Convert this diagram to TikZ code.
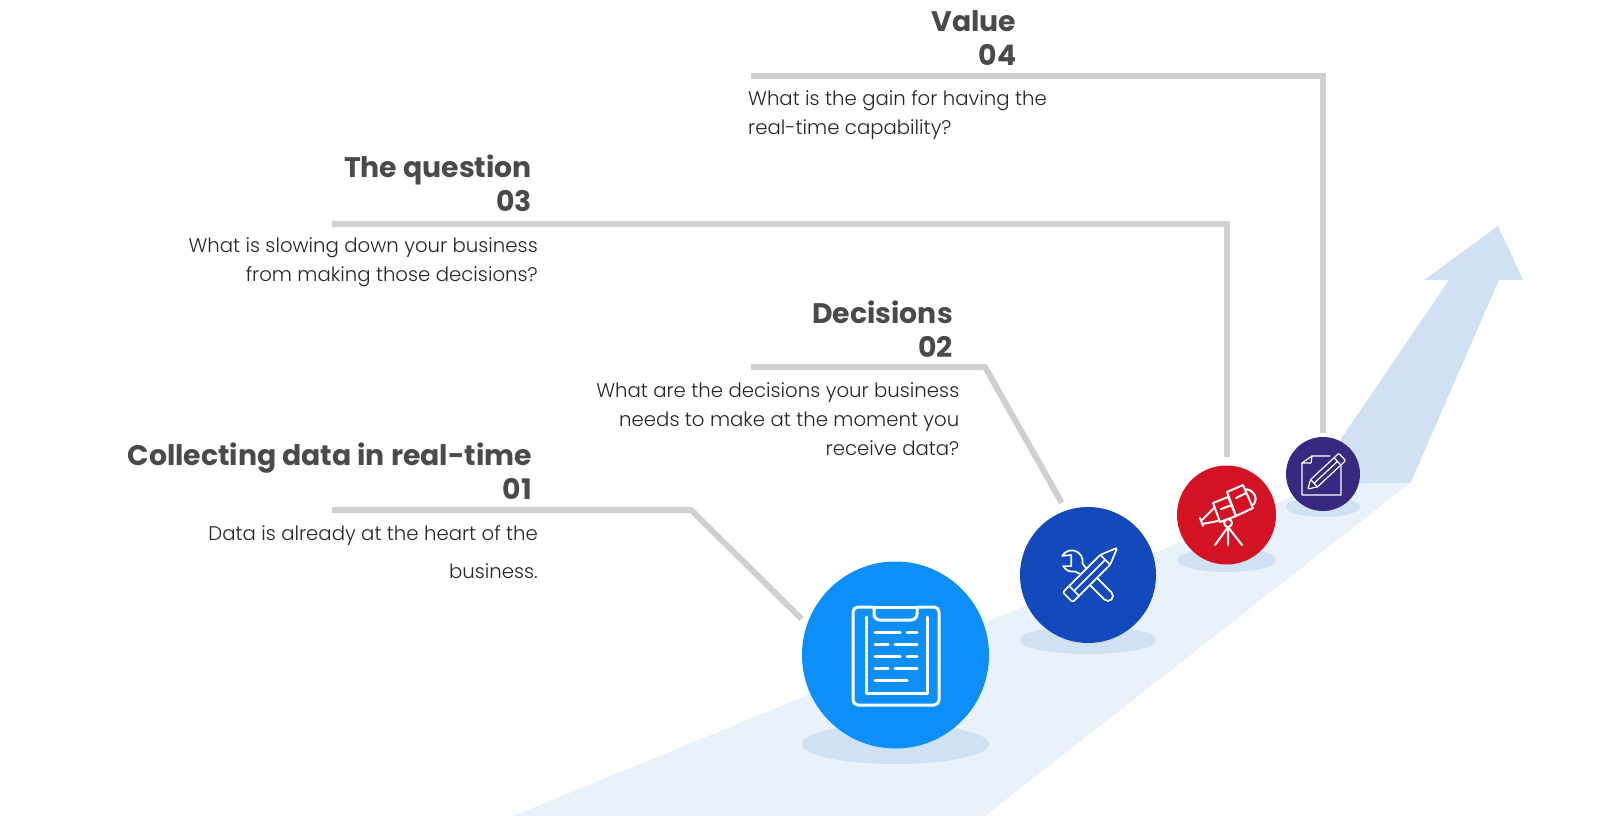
\documentclass[tikz,border=0pt]{standalone}
\usepackage{fontspec}
\usepackage{xcolor}
\usetikzlibrary{positioning}
\newfontfamily\headfont{Poppins}
\newfontfamily\copyfont{Poppins Light}
\definecolor{bandblue}{HTML}{E9F1FA}
\definecolor{paleblue}{HTML}{CFE1F2}
\definecolor{leadgray}{HTML}{D0D0D0}
\definecolor{textgray}{HTML}{4A4A4C}
\definecolor{ballA}{HTML}{0C8FF9}
\definecolor{ballB}{HTML}{1349BB}
\definecolor{ballC}{HTML}{D31324}
\definecolor{ballD}{HTML}{37297F}

\begin{document}
\begin{tikzpicture}
  [x=1pt,y=-1pt,
   ball/.style={circle,inner sep=0pt},
   lead/.style={draw=leadgray,line width=6pt,miter limit=10},
   heading/.style={inner sep=0pt,text=textgray,align=right,anchor=north east,
     font=\headfont\bfseries\fontsize{28.3}{34}\selectfont,execute at begin node=\strut},
   copytext/.style={inner sep=0pt,text=black!85,align=right,anchor=north east,
     font=\copyfont\fontsize{19.7}{29}\selectfont,execute at begin node=\strut},
   icon/.style={draw=white,line width=#1,line cap=round,line join=round},
   icon/.default=1.7pt]
  \useasboundingbox (0,0) rectangle (1600,816);

  % road and arrow
  \fill[paleblue] (1410,484) -- (1499,280) -- (1523,280) -- (1498,226) -- (1424,280)
    -- (1449,280) -- (1311,483) -- cycle;
  \fill[bandblue] (513,816) -- (1325,483) -- (1410,483) -- (985,816) -- cycle;

  % shadows
  \fill[paleblue] (895.5,744) ellipse [x radius=93.5,y radius=20];
  \fill[paleblue] (1088,640) ellipse [x radius=68,y radius=14];
  \fill[paleblue] (1226.5,560) ellipse [x radius=49.5,y radius=12];
  \fill[paleblue] (1323,507) ellipse [x radius=37,y radius=10];

  \node[ball,fill=ballA,minimum size=187pt,outer sep=7pt] (c1) at (895.5,655) {};
  \node[ball,fill=ballB,minimum size=136pt,outer sep=9pt] (c2) at (1088,575) {};
  \node[ball,fill=ballC,minimum size=99pt,outer sep=9pt] (c3) at (1226.5,515) {};
  \node[ball,fill=ballD,minimum size=74pt,outer sep=4pt] (c4) at (1323,474) {};

  \coordinate (s1) at (332,510);
  \coordinate (k1) at (691,510);
  \coordinate (s2) at (751,367);
  \coordinate (k2) at (985,367);
  \coordinate (s3) at (332,223.5);
  \coordinate (k3) at (1226.5,223.5);
  \coordinate (s4) at (751,75.5);
  \coordinate (k4) at (1323,75.5);

  \foreach \from/\via/\to in {s1/k1/c1.159.7,s2/k2/c2.110.6,s3/k3/c3.north,s4/k4/c4.north}
    \draw[lead] (\from) -- (\via) -- (\to);

  \node[heading] (t1) at (532,443) {Collecting data in real-time\\01};
  \node[heading] (t2) at (953,300.5) {Decisions\\02};
  \node[heading] (t3) at (532,155) {The question\\03};
  \node[heading] (t4) at (1016.5,10.5) {Value\\04};

  \node[copytext] (d1) at (538,525) {Data is already at the heart of the\\[9pt]business.};
  \node[copytext] (d2) at (959.5,382) {What are the decisions your business\\needs to make at the moment you\\receive data?};
  \node[copytext] (d3) at (538,237) {What is slowing down your business\\from making those decisions?};
  \node[copytext,align=left,anchor=north west] (d4) at (748,90) {What is the gain for having the\\real-time capability?};

  % clipboard
  \draw[icon=3pt,rounded corners=5pt] (873,607) -- (853,607) -- (853,705) -- (939,705) -- (939,607) -- (918,607);
  \draw[icon=3pt] (873,607) -- (918,607);
  \draw[icon=3pt,rounded corners=6pt] (874,607) -- (874,620) -- (917,620) -- (917,607);
  \draw[icon=3pt] (866,617) -- (866,693) -- (927,693) -- (927,617);
  \foreach \y/\a/\b/\c/\d in {632/875/900/907/917,644/875/888/895/917,656/875/900/907/917,668/875/888/895/917}
    \draw[icon=3pt] (\a,\y) -- (\b,\y) (\c,\y) -- (\d,\y);
  \draw[icon=3pt] (875,680) -- (907,680);

  % wrench and pencil
  \begin{scope}[shift={(1091,579)},rotate=-45]
    \draw[icon] (4,-5) -- (24,-5) arc [start angle=-90,end angle=90,radius=5] -- (4,5);
    \draw[icon] (-11,-4) -- (-17,-5) arc [start angle=-34,end angle=-195,radius=11]
      -- (-31,-2.9) -- (-23.1,4.9) -- (-28.8,10.6) arc [start angle=105,end angle=34,radius=11] -- (-11,4);
  \end{scope}
  \begin{scope}[shift={(1092.5,572.5)},rotate=45]
    \draw[icon,rounded corners=2pt] (-35,-7) -- (18,-7) -- (35,0) -- (18,7) -- (-35,7) -- cycle;
    \draw[icon] (-26,-7) -- (-26,7) (-26,0) -- (18,0) (18,-7) -- (18,7);
  \end{scope}

  % telescope
  \draw[icon=2pt] (1227,492) -- (1243,485) -- (1253,508) -- (1236,516) -- cycle;
  \draw[icon=2pt] (1213,503) -- (1228,497) -- (1236,516) -- (1220,522) -- cycle;
  \draw[icon=2pt] (1214,508) -- (1202,520) (1218,521) -- (1202,524);
  \draw[icon=2pt] (1200,518) -- (1203,526);
  \draw[icon=2pt] (1245,489) .. controls (1257,490) and (1258,503) .. (1252,505);
  \draw[icon=2pt] (1221,509) -- (1232,505) (1236,498) -- (1246,493);
  \draw[icon=2pt] (1228,523) circle [radius=4];
  \draw[icon=2pt] (1228,527) -- (1215,545) (1228,527) -- (1228,545) (1228,527) -- (1242,545);

  % note and pencil
  \draw[icon=1.2pt] (1330,456) -- (1312,456) -- (1302,463) -- (1302,495) -- (1341,495) -- (1341,466);
  \draw[icon=1.2pt] (1312,456) -- (1311,463) -- (1302,463);
  \begin{scope}[shift={(1325,473)},rotate=43]
    \draw[icon=1.2pt,rounded corners=1pt] (-23.5,0) -- (-15,-5) -- (23.5,-5) -- (23.5,5) -- (-15,5) -- cycle;
    \draw[icon=1.2pt] (17,-5) -- (17,5) (-15,0) -- (17,0) (-15,-5) -- (-15,5);
  \end{scope}
\end{tikzpicture}
\end{document}
